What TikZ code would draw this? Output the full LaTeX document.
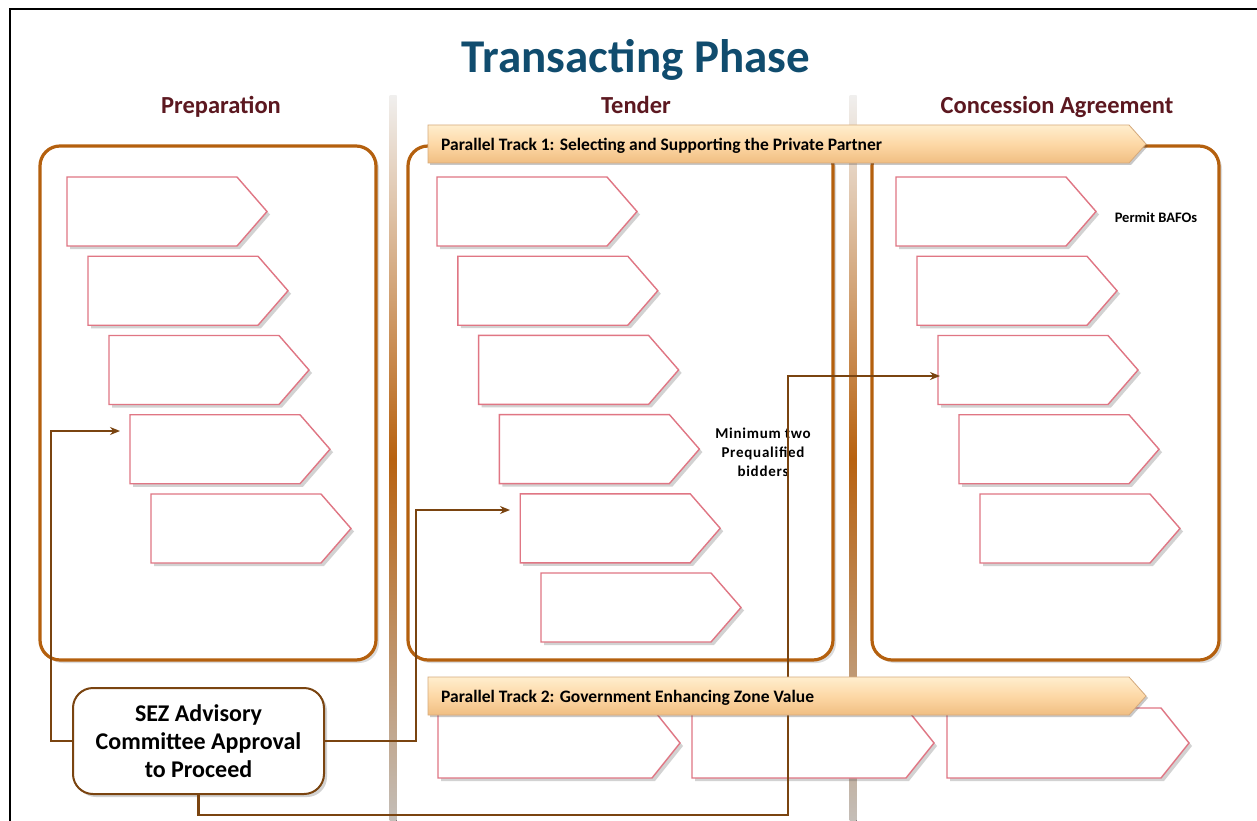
\documentclass[tikz,border=0pt]{standalone}
\usepackage{fontspec}
\setmainfont{Carlito}
\newfontfamily\widebold[LetterSpace=5]{Carlito}
\usetikzlibrary{shadows,arrows.meta}

\definecolor{titleblue}{RGB}{16,76,110}
\definecolor{headred}{RGB}{92,24,32}
\definecolor{panelbrown}{RGB}{180,96,14}
\definecolor{linkbrown}{RGB}{122,68,16}
\definecolor{steppink}{RGB}{224,118,132}
\definecolor{bannertop}{RGB}{255,238,206}
\definecolor{bannermid}{RGB}{253,216,166}
\definecolor{bannerbot}{RGB}{240,190,130}
\definecolor{bannerline}{RGB}{214,170,124}
\definecolor{sepgray}{RGB}{196,190,184}
\definecolor{seporange}{RGB}{184,98,16}

\tikzset{
  stepshape/.style={draw=steppink, line width=1.4pt, fill=white,
    drop shadow={shadow xshift=3pt, shadow yshift=-3pt, opacity=0.25, fill=black!70}},
  bannershape/.style={draw=bannerline, line width=0.8pt,
    top color=bannertop, bottom color=bannerbot, middle color=bannermid,
    drop shadow={shadow xshift=2pt, shadow yshift=-2pt, opacity=0.3, fill=black!70}},
  panel/.style={draw=panelbrown, fill=white, line width=3.2pt, rounded corners=20pt,
    inner sep=0pt, minimum width=#1},
  panelshadow/.style={drop shadow={shadow xshift=3pt, shadow yshift=-3pt, opacity=0.2, fill=black!70}},
  separator/.style={draw=none, top color=sepgray!25, bottom color=sepgray, middle color=seporange},
  link/.style={draw=linkbrown, line width=2.6pt, -{Stealth[length=10pt,width=8pt]}},
  heading/.style={font=\fontsize{24.5}{28}\selectfont\bfseries, text=headred, anchor=base},
  bannertext/.style={font=\fontsize{17.5}{20}\selectfont\bfseries, anchor=base west, inner sep=0pt},
  notetext/.style={font=\fontsize{15}{19}\selectfont\widebold\bfseries, align=center, inner sep=0pt},
}

% pentagon step arrow: name, left, top, width, height, tip length
\newcommand\steparrow[6]{%
  \draw[stepshape] (#2,#3) -- ++({#4-#6},0) -- ++(#6,{#5/2}) -- ++(-#6,{#5/2}) -- ++({#6-#4},0) -- cycle;
  \coordinate (#1) at (#2,{#3+#5/2});}

% track banner: name, left, top, width, height, tip length
\newcommand\trackbanner[6]{%
  \draw[bannershape] (#2,#3) -- ++({#4-#6},0) -- ++(#6,{#5/2}) -- ++(-#6,{#5/2}) -- ++({#6-#4},0) -- cycle;
  \coordinate (#1) at (#2,{#3+#5/2});}

\begin{document}
\begin{tikzpicture}[x=1pt,y=-1pt]
\useasboundingbox (0,0) rectangle (1257,821);
\fill[white] (0,0) rectangle (1257,821);

% outer frame
\draw[line width=1.6pt, black] (10,821) -- (10,9) -- (1257,9);

% title and column headings
\node[font=\fontsize{47}{52}\selectfont\bfseries, text=titleblue, anchor=base] (title) at (636,73) {Transacting Phase};
\node[heading] (hprep) at (221,114) {Preparation};
\node[heading] (htender) at (636,114) {Tender};
\node[heading] (hconc) at (1057,114) {Concession Agreement};

% column separators
\fill[separator] (389.5,96) rectangle (396.5,821);
\fill[separator] (849.5,96) rectangle (856.5,821);

% phase panels
\node[panel=336pt, minimum height=514pt, panelshadow] (prep) at (208,403) {};
\node[panel=425pt, minimum height=514pt, panelshadow] (tender) at (620.5,403) {};
\node[panel=347pt, minimum height=514pt, panelshadow] (conc) at (1045.5,403) {};

% step arrows
\foreach \i in {0,...,4} {\steparrow{prep\i}{67+21*\i}{177+79.25*\i}{200}{69}{30}}
\foreach \i in {0,...,5} {\steparrow{tend\i}{437+20.8*\i}{177+79.2*\i}{200}{69}{30}}
\foreach \i in {0,...,4} {\steparrow{conc\i}{896+21*\i}{177+79.25*\i}{200}{69}{30}}
\steparrow{gov0}{438}{708}{242}{70}{28}
\steparrow{gov1}{692}{708}{242}{70}{28}
\steparrow{gov2}{947}{708}{242}{70}{28}

% notes
\node[notetext] (bidders) at (763,452) {Minimum two\\Prequalified\\bidders};
\node[font=\fontsize{14.5}{17}\selectfont\bfseries, anchor=base, inner sep=0pt] (bafo) at (1156,222) {Permit BAFOs};

% approval box
\node[draw=linkbrown, line width=2pt, fill=white, rounded corners=20pt,
      minimum width=251pt, minimum height=106pt, inner sep=0pt, align=center,
      font=\fontsize{24}{28}\selectfont\bfseries,
      drop shadow={shadow xshift=3pt, shadow yshift=-3pt, opacity=0.25, fill=black!70}]
      (sez) at (198.5,741) {SEZ Advisory\\Committee Approval\\to Proceed};

% connector end points
\coordinate (bendA) at (51,431);
\coordinate (prepIn) at (120,431);
\coordinate (bendB) at (416,510);
\coordinate (tenderIn) at (510,510);
\coordinate (bendC) at (788,815);
\coordinate (concIn) at (940,376);

\draw[link] (sez.west) -| (bendA) -- (prepIn);
\draw[link] (sez.east) -| (bendB) -- (tenderIn);
\draw[link] (sez.south) |- (bendC) |- (concIn);

% parallel track banners
\trackbanner{track1}{428}{125}{718}{38}{17}
\trackbanner{track2}{428}{677}{718}{38}{17}
\node[bannertext] (t1) at (441,151) {Parallel Track 1: Selecting and Supporting the Private Partner};
\node[bannertext] (t2) at (441,702) {Parallel Track 2: Government Enhancing Zone Value};
\end{tikzpicture}
\end{document}
